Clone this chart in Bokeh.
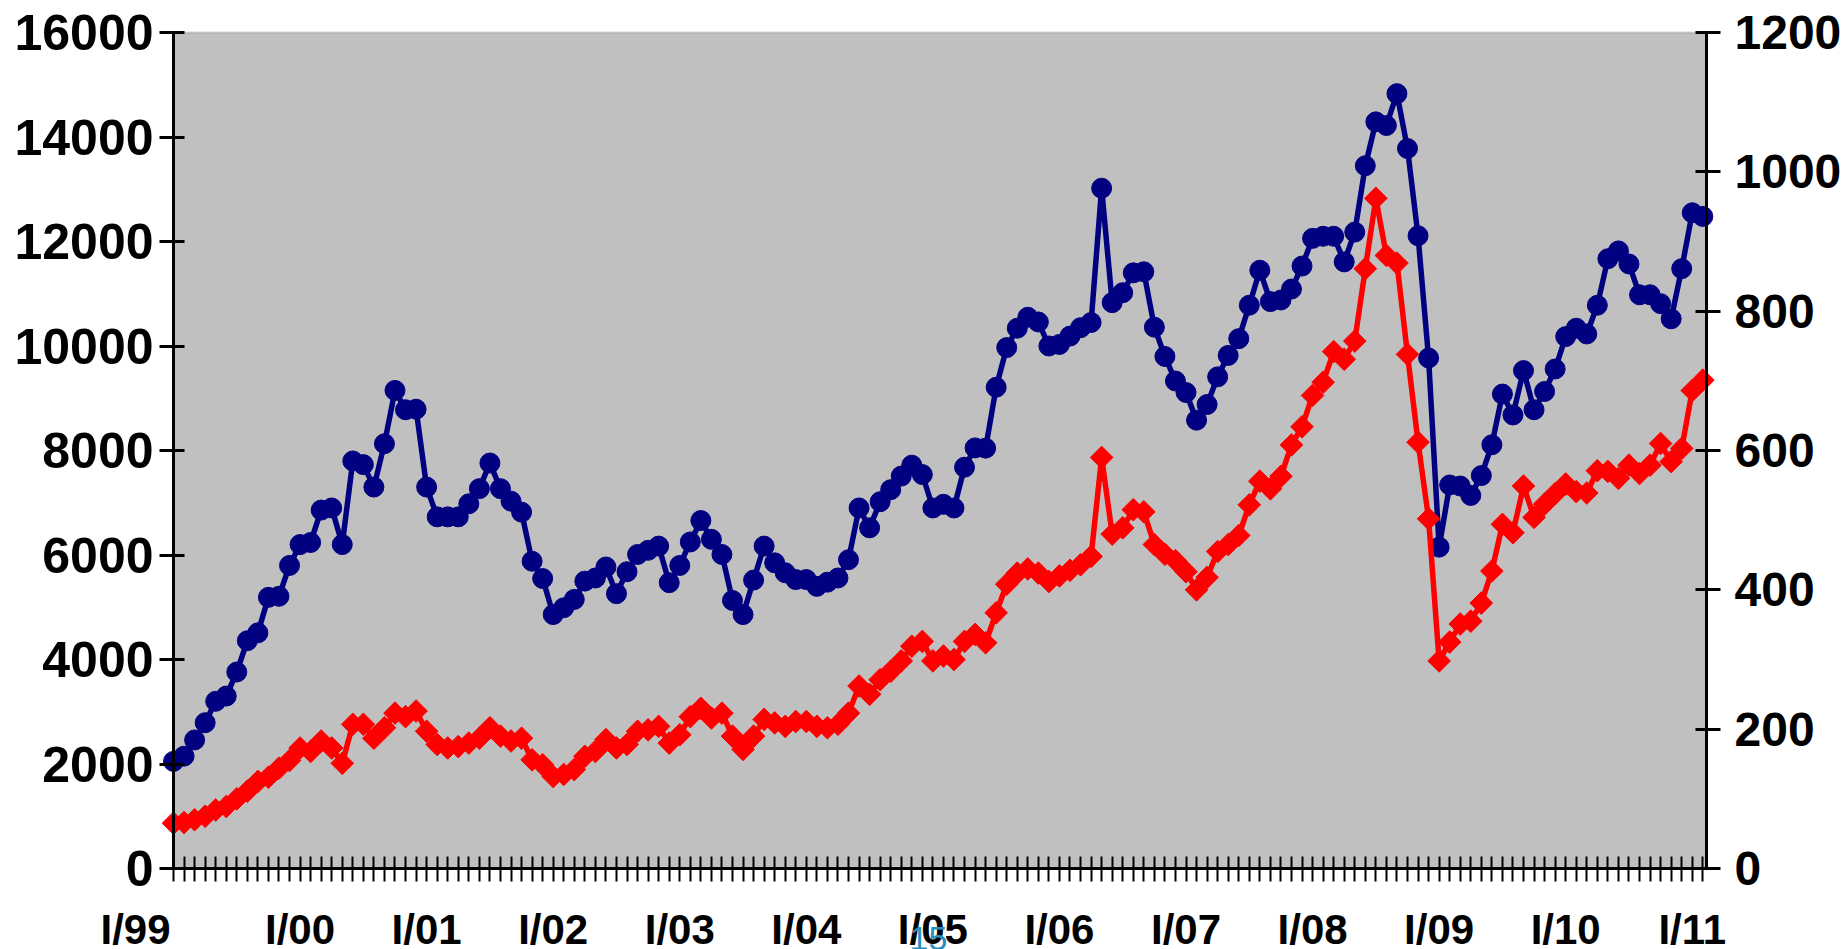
import math
from bokeh.plotting import figure
from bokeh.models import (Range1d, LinearAxis, FixedTicker, ColumnDataSource,
                          BoxAnnotation, CustomLabelingPolicy)
from bokeh.core.properties import value
from bokeh.embed import file_html
from bokeh.resources import INLINE

# Monthly data, Jan 1999 .. Feb 2011
blue_values = [
    2050, 2150, 2460, 2790, 3200, 3300, 3760, 4360, 4510, 5190, 5210, 5800,
    6200, 6240, 6860, 6900, 6200, 7800, 7730, 7300, 8130, 9150, 8780, 8790,
    7300, 6730, 6730, 6730, 6980, 7270, 7760, 7270, 7030, 6820, 5880, 5550,
    4860, 4990, 5150, 5500, 5560, 5770, 5260, 5680, 6010, 6090, 6170, 5470,
    5800, 6250, 6660, 6300, 6010, 5130, 4860, 5520, 6170, 5850, 5660, 5530,
    5530, 5400, 5480, 5560, 5910, 6900, 6520, 7020, 7250, 7510, 7720, 7540,
    6900, 6970, 6900, 7680, 8050, 8045, 9210, 9970, 10340, 10550, 10460, 10000,
    10030, 10190, 10350, 10450, 13020, 10830, 11020, 11400, 11420, 10360, 9800, 9330,
    9110, 8580, 8880, 9410, 9820, 10140, 10780, 11450, 10850, 10880, 11090, 11530,
    12060, 12100, 12100, 11610, 12180, 13450, 14290, 14220, 14830, 13780, 12110, 9770,
    6150, 7340, 7320, 7140, 7520, 8110, 9080, 8680, 9530, 8780, 9130, 9560,
    10180, 10340, 10230, 10780, 11670, 11820, 11570, 10980, 10980, 10810, 10520, 11480,
    12550, 12480,
]

red_values = [
    65, 66, 70, 75, 84, 89, 100, 111, 125, 131, 144, 155,
    173, 168, 183, 173, 151, 207, 207, 187, 202, 223, 218, 226,
    197, 178, 173, 175, 180, 187, 202, 190, 183, 187, 156, 149,
    132, 135, 142, 161, 168, 185, 173, 178, 197, 199, 204, 180,
    192, 218, 230, 216, 223, 190, 171, 190, 214, 209, 204, 211,
    211, 204, 202, 207, 223, 262, 250, 271, 283, 298, 319, 326,
    298, 305, 300, 326, 336, 324, 367, 408, 424, 430, 424, 412,
    420, 428, 436, 448, 590, 480, 489, 515, 512, 465, 451, 442,
    426, 400, 418, 455, 465, 478, 522, 556, 545, 563, 608, 634,
    679, 698, 742, 731, 757, 861, 962, 880, 869, 738, 612, 502,
    298, 325, 351, 355, 381, 427, 494, 482, 549, 504, 523, 538,
    552, 541, 539, 571, 570, 560, 579, 567, 579, 610, 584, 603,
    686, 701,
]

x_labels = ["I/99", "I/00", "I/01", "I/02", "I/03", "I/04", "I/05",
            "I/06", "I/07", "I/08", "I/09", "I/10", "I/11"]
left_ticks = [0, 2000, 4000, 6000, 8000, 10000, 12000, 14000, 16000]
left_tick_labels = ["0", "2000", "4000", "6000", "8000", "10000", "12000", "14000", "16000"]
right_ticks = [0, 200, 400, 600, 800, 1000, 1200]
right_tick_labels = ["0", "200", "400", "600", "800", "1000", "1200"]
page_number = "15"

months = list(range(len(blue_values)))
label_positions = [12 * k for k in range(len(x_labels))]

FONT = "Liberation Sans"
FS_L = "50px"
FS_R = "48px"
FS_X = "42px"

# pixel layout of the chart area inside the 1841x949 canvas
W, H = 1841, 949
AREA_L, AREA_R, AREA_T, AREA_B = 173, 1706, 32, 868
X_END = 145.35
Y_MAX = left_ticks[-1]
R_MAX = right_ticks[-1]

kx = (AREA_R - AREA_L) / X_END            # px per month
ky = (AREA_B - AREA_T) / Y_MAX            # px per left unit
x_low = -AREA_L / kx
x_high = X_END + (W - AREA_R) / kx
y_low = -(H - AREA_B) / ky
y_high = Y_MAX + AREA_T / ky

p = figure(width=W, height=H, output_backend="svg", toolbar_location=None,
           x_range=Range1d(x_low, x_high), y_range=Range1d(y_low, y_high),
           min_border=0, min_border_left=0, min_border_right=0,
           min_border_top=0, min_border_bottom=0,
           background_fill_color="white", border_fill_color="white",
           outline_line_color=None)
p.xgrid.visible = False
p.ygrid.visible = False

# grey plot area
p.add_layout(BoxAnnotation(left=0, right=X_END, bottom=0, top=Y_MAX,
                           fill_color="#C0C0C0", fill_alpha=1.0,
                           line_color="#808080", line_width=2, level="underlay"))

# monthly tick marks on the category axis (labels drawn separately)
xa = p.xaxis[0]
xa.fixed_location = 0
xa.bounds = (0, X_END)
xa.ticker = FixedTicker(ticks=months)
xa.major_label_policy = CustomLabelingPolicy(
    code="for (const i of indices) { if (false) { yield i } }")
xa.major_label_text_font_size = "0px"
xa.major_label_standoff = 0
xa.major_tick_in = 12
xa.major_tick_out = 13
xa.major_tick_line_width = 2
xa.major_tick_line_color = "black"
xa.minor_tick_line_color = None
xa.axis_line_width = 3
xa.axis_line_color = "black"

ya = p.yaxis[0]
ya.fixed_location = 0
ya.bounds = (0, Y_MAX)
ya.ticker = FixedTicker(ticks=left_ticks)
ya.major_label_overrides = {t: s for t, s in zip(left_ticks, left_tick_labels)}
ya.major_label_text_font = FONT
ya.major_label_text_font_style = "bold"
ya.major_label_text_font_size = FS_L
ya.major_label_text_color = "black"
ya.major_label_standoff = 6
ya.major_tick_in = 11
ya.major_tick_out = 14
ya.major_tick_line_width = 3
ya.minor_tick_line_color = None
ya.axis_line_width = 3
ya.axis_line_color = "black"

p.extra_y_ranges = {"right": Range1d(y_low * R_MAX / Y_MAX, y_high * R_MAX / Y_MAX)}
ra = LinearAxis(y_range_name="right", ticker=FixedTicker(ticks=right_ticks),
                bounds=(0, R_MAX), fixed_location=X_END)
ra.major_label_overrides = {t: s for t, s in zip(right_ticks, right_tick_labels)}
ra.major_label_text_font = FONT
ra.major_label_text_font_style = "bold"
ra.major_label_text_font_size = FS_R
ra.major_label_text_color = "black"
ra.major_label_standoff = 14
ra.major_tick_in = 11
ra.major_tick_out = 14
ra.major_tick_line_width = 3
ra.minor_tick_line_color = None
ra.axis_line_width = 3
ra.axis_line_color = "black"
p.add_layout(ra, "right")

p.line(months, blue_values, line_color="#000080", line_width=5.5)
p.scatter(months, blue_values, marker="circle", size=20,
          fill_color="#000080", line_color="#000080")

p.line(months, red_values, line_color="#FF0000", line_width=5.5, y_range_name="right")
p.scatter(months, red_values, marker="square", angle=math.pi / 4, size=16,
          fill_color="#FF0000", line_color="#FF0000", y_range_name="right")

# category labels under the axis
lab_src = ColumnDataSource(dict(
    x=label_positions,
    text=x_labels,
    dx=[-38] + [0] * (len(x_labels) - 1),
))
p.text(x="x", y=-(929 - AREA_B) / ky, text="text", x_offset="dx", source=lab_src,
       text_align="center", text_baseline="alphabetic",
       text_font=value(FONT), text_font_style="bold", text_font_size=value(FS_X),
       text_color="black")

# partially visible page number at the bottom edge
num_src = ColumnDataSource(dict(x=[(928 - AREA_L) / kx], text=[page_number]))
p.text(x="x", y=-(938 - AREA_B) / ky, text="text", source=num_src,
       text_align="center", text_baseline="alphabetic",
       text_font=value(FONT), text_font_size=value("34px"), text_color="#2A8FBD")

open("out.html", "w").write(file_html(p, INLINE))
